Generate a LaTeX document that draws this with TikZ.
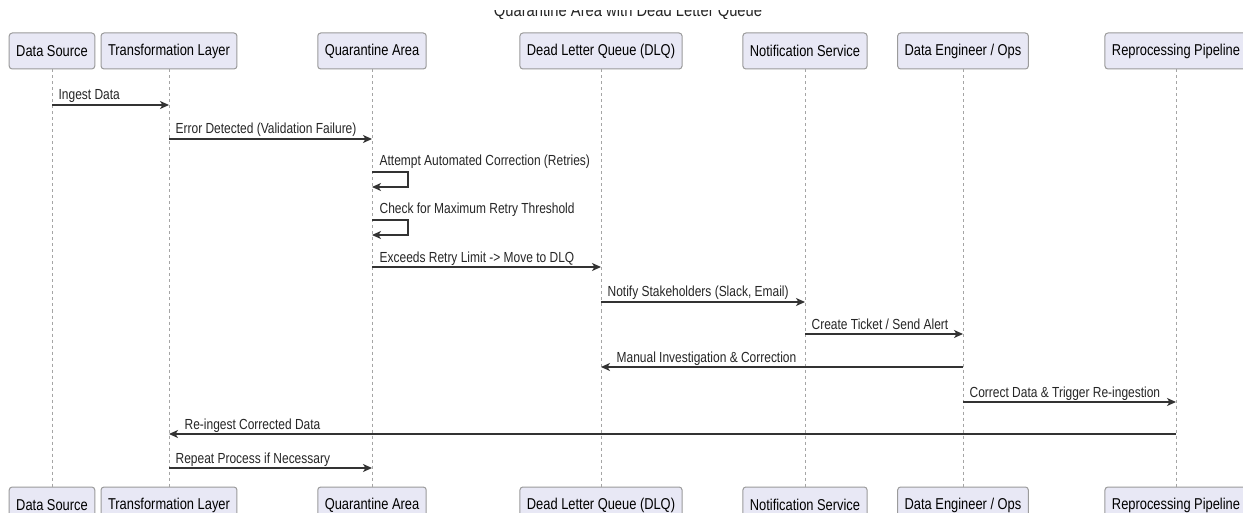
\documentclass[tikz,border=0pt]{standalone}
\usepackage{fontspec}
\setmainfont{Liberation Sans}[FakeStretch=0.82]
\usetikzlibrary{arrows.meta}
\definecolor{actorfill}{HTML}{E8E8F5}
\definecolor{actorline}{HTML}{9B9B9B}
\definecolor{msgline}{HTML}{333333}
\definecolor{lifegray}{HTML}{A5A5A5}

\begin{document}
\begin{tikzpicture}
  [x=1pt,y=-1pt,
   actor/.style={draw=actorline,fill=actorfill,rounded corners=3pt,line width=1pt,
     minimum height=36pt,inner xsep=7pt,font=\fontsize{15.7}{18}\selectfont},
   life/.style={draw=lifegray,line width=0.8pt,dash pattern=on 3pt off 3pt},
   msg/.style={draw=msgline,line width=1.3pt,-{Stealth[length=9pt,width=8pt,inset=2.5pt]}},
   lbl/.style={anchor=base west,inner sep=0pt,font=\fontsize{14.6}{17}\selectfont,text=black!85}]
  \path[fill=white,use as bounding box] (0,0) rectangle (1243,513);
  % title, only its lower edge shows
  \begin{scope}
    \clip (0,11) rectangle (1243,19);
    \node[anchor=base,inner sep=0pt,font=\fontsize{18}{21}\selectfont,text=black!85] (title) at (628,17)
      {Quarantine Area with Dead Letter Queue};
  \end{scope}

  % participants, top and bottom
  \node[actor] (ds)  at (52,51)   {Data Source};
  \node[actor] (tl)  at (169,51)  {Transformation Layer};
  \node[actor] (qa)  at (372,51)  {Quarantine Area};
  \node[actor] (dlq) at (601,51)  {Dead Letter Queue (DLQ)};
  \node[actor] (ns)  at (805,51)  {Notification Service};
  \node[actor] (de)  at (963,51)  {Data Engineer / Ops};
  \node[actor] (rp)  at (1176,51) {Reprocessing Pipeline};

  \node[actor] (ds-b)  at (52,505)   {Data Source};
  \node[actor] (tl-b)  at (169,505)  {Transformation Layer};
  \node[actor] (qa-b)  at (372,505)  {Quarantine Area};
  \node[actor] (dlq-b) at (601,505)  {Dead Letter Queue (DLQ)};
  \node[actor] (ns-b)  at (805,505)  {Notification Service};
  \node[actor] (de-b)  at (963,505)  {Data Engineer / Ops};
  \node[actor] (rp-b)  at (1176,505) {Reprocessing Pipeline};

\foreach \p in {ds,tl,qa,dlq,ns,de,rp}
    \draw[life] (\p) -- (\p-b);

\foreach \r/\y in {1/105,2/139,3/172,4/220,5/267,6/302,7/334,8/367,9/402,10/434,11/468}
    \coordinate (m\r) at (0,\y);

  % messages
  \draw[msg] (ds |- m1) -- node[lbl,pos=0,xshift=6pt,yshift=5pt] {Ingest Data} (tl |- m1);
  \draw[msg] (tl |- m2) -- node[lbl,pos=0,xshift=6pt,yshift=5pt] {Error Detected (Validation Failure)} (qa |- m2);
  \draw[msg] (qa |- m3) node[lbl,xshift=7pt,yshift=6pt] {Attempt Automated Correction (Retries)}
    -- ++(36,0) -- ++(0,15) -- ++(-36,0);
  \draw[msg] (qa |- m4) node[lbl,xshift=7pt,yshift=6pt] {Check for Maximum Retry Threshold}
    -- ++(36,0) -- ++(0,15) -- ++(-36,0);
  \draw[msg] (qa |- m5) -- node[lbl,pos=0,xshift=7pt,yshift=5pt] {Exceeds Retry Limit -> Move to DLQ} (dlq |- m5);
  \draw[msg] (dlq |- m6) -- node[lbl,pos=0,xshift=6pt,yshift=5pt] {Notify Stakeholders (Slack, Email)} (ns |- m6);
  \draw[msg] (ns |- m7) -- node[lbl,pos=0,xshift=6pt,yshift=5pt] {Create Ticket / Send Alert} (de |- m7);
  \draw[msg] (de |- m8) -- node[lbl,pos=1,xshift=15pt,yshift=5pt] {Manual Investigation \& Correction} (dlq |- m8);
  \draw[msg] (de |- m9) -- node[lbl,pos=0,xshift=6pt,yshift=5pt] {Correct Data \& Trigger Re-ingestion} (rp |- m9);
  \draw[msg] (rp |- m10) -- node[lbl,pos=1,xshift=15pt,yshift=5pt] {Re-ingest Corrected Data} (tl |- m10);
  \draw[msg] (tl |- m11) -- node[lbl,pos=0,xshift=6pt,yshift=5pt] {Repeat Process if Necessary} (qa |- m11);
\end{tikzpicture}
\end{document}
